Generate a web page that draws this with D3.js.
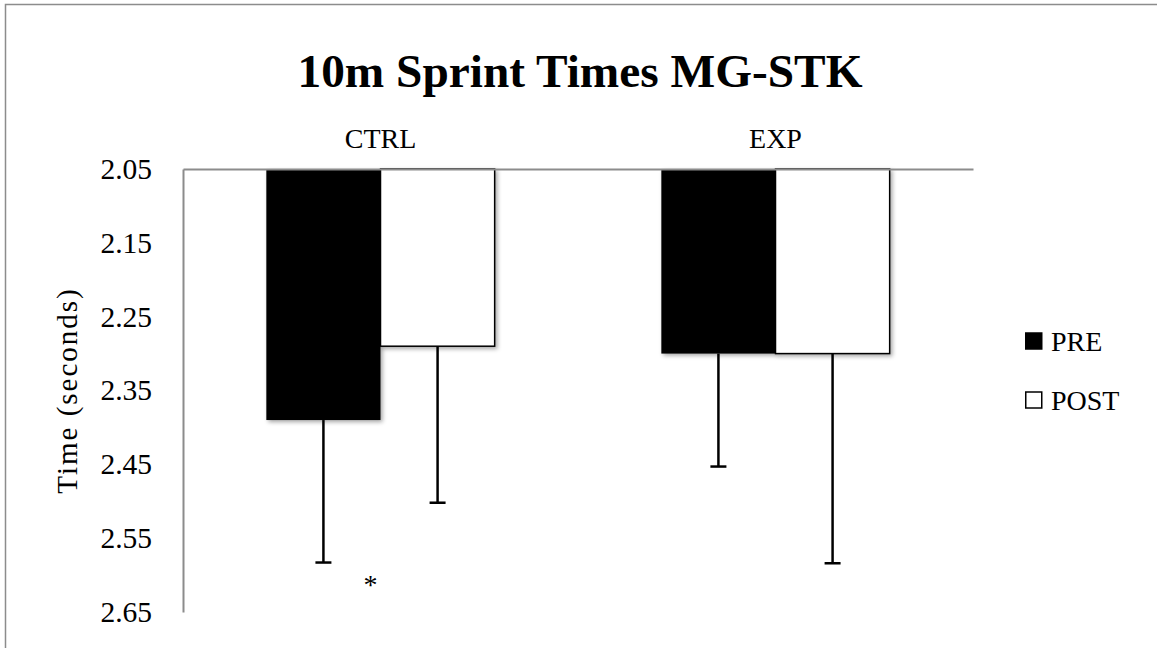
<!DOCTYPE html>
<html><head><meta charset="utf-8">
<script src="https://cdn.jsdelivr.net/npm/d3@7"></script>
<style>
body{margin:0;background:#fff}
svg{display:block}
text{font-family:"Liberation Serif","Times New Roman",serif;fill:#000}
</style>
</head><body>
<svg id="chart" width="1157" height="648"></svg>
<script>
const categories = ["CTRL", "EXP"];
const seriesNames = ["PRE", "POST"];
const preValues = [2.39, 2.30];
const postValues = [2.29, 2.30];
const preErrors = [0.193, 0.153];
const postErrors = [0.212, 0.284];
const yTicks = [2.05, 2.15, 2.25, 2.35, 2.45, 2.55, 2.65];
const chartTitle = "10m Sprint Times MG-STK";
const yTitle = "Time (seconds)";
const sigMark = "*";
const sigValue = 2.61;

const W = 1157, H = 648;
const plot = {left: 183, right: 973, top: 169, bottom: 612};
const svg = d3.select("#chart");

const defs = svg.append("defs");
const f = defs.append("filter").attr("id","shadow").attr("x","-20%").attr("y","-20%").attr("width","140%").attr("height","140%");
f.append("feDropShadow").attr("dx",2).attr("dy",2).attr("stdDeviation",2).attr("flood-color","#000").attr("flood-opacity",0.35);

// outer frame
svg.append("rect").attr("x",5.5).attr("y",4.5).attr("width",W).attr("height",H)
  .attr("fill","none").attr("stroke","#8c8c8c").attr("stroke-width",1.5);

const x = d3.scaleBand().domain(categories).range([plot.left, plot.right]).padding(0);
const xs = d3.scaleBand().domain(seriesNames).range([0, x.bandwidth()]).paddingInner(0).paddingOuter(0.73);
const y = d3.scaleLinear().domain([2.05, 2.65]).range([plot.top, plot.bottom]);
const color = d3.scaleOrdinal().domain(seriesNames).range(["#000000", "#ffffff"]);

const data = [];
categories.forEach((c, i) => {
  data.push({cat: c, s: "PRE", v: preValues[i], e: preErrors[i]});
  data.push({cat: c, s: "POST", v: postValues[i], e: postErrors[i]});
});

// bars
svg.append("g").selectAll("rect").data(data).join("rect")
  .attr("x", d => x(d.cat) + xs(d.s))
  .attr("y", y(2.05))
  .attr("width", xs.bandwidth())
  .attr("height", d => y(d.v) - y(2.05))
  .attr("fill", d => color(d.s))
  .attr("stroke", d => d.s === "POST" ? "#000" : "none")
  .attr("stroke-width", 1.5)
  .attr("filter", "url(#shadow)");

// error bars
const eb = svg.append("g").attr("stroke", "#000").attr("stroke-width", 2.5);
data.forEach(d => {
  const cx = x(d.cat) + xs(d.s) + xs.bandwidth() / 2;
  eb.append("line").attr("x1", cx).attr("x2", cx).attr("y1", y(d.v)).attr("y2", y(d.v + d.e));
  eb.append("line").attr("x1", cx - 8).attr("x2", cx + 8).attr("y1", y(d.v + d.e)).attr("y2", y(d.v + d.e));
});

// axes
const yAxis = svg.append("g").attr("transform", `translate(${plot.left},0)`)
  .call(d3.axisLeft(y).tickValues(yTicks).tickSize(0).tickSizeOuter(0).tickPadding(31).tickFormat(d3.format(".2f")));
yAxis.select(".domain").attr("stroke", "#8c8c8c").attr("stroke-width", 2);
yAxis.selectAll("text").attr("font-size", 29.5).attr("font-family", "Liberation Serif").attr("fill","#000");

const xAxis = svg.append("g").attr("transform", `translate(0,${plot.top})`)
  .call(d3.axisTop(x).tickSize(0).tickSizeOuter(0).tickPadding(21));
xAxis.select(".domain").attr("stroke", "#8c8c8c").attr("stroke-width", 2);
xAxis.selectAll("text").attr("font-size", 28).attr("font-family", "Liberation Serif").attr("fill","#000");

// title
const t = svg.append("text").attr("x", 580).attr("y", 87).attr("text-anchor", "middle")
  .attr("font-weight", "bold").attr("font-size", 44).text(chartTitle);
const tl = t.node().getComputedTextLength();
t.attr("font-size", 44 * 565 / tl);

// y title
svg.append("text").attr("transform", `translate(77,${(plot.top + plot.bottom) / 2}) rotate(-90)`)
  .attr("text-anchor", "middle").attr("font-size", 29).attr("letter-spacing", 2).text(yTitle);

// significance marker
svg.append("text").attr("x", x("CTRL") + x.bandwidth() / 2 - 10).attr("y", y(sigValue) + 12)
  .attr("text-anchor", "middle").attr("font-size", 28).text(sigMark);

// legend
const lg = svg.append("g").attr("transform", "translate(1025,0)");
const legendY = d3.scalePoint().domain(seriesNames).range([341, 400]);
seriesNames.forEach(s => {
  lg.append("rect").attr("x", 0.75).attr("y", legendY(s) - 8).attr("width", 16).attr("height", 16)
    .attr("fill", color(s)).attr("stroke", "#000").attr("stroke-width", 1.5);
  lg.append("text").attr("x", 26).attr("y", legendY(s) + 10).attr("font-size", 28).text(s);
});
</script>
</body></html>
